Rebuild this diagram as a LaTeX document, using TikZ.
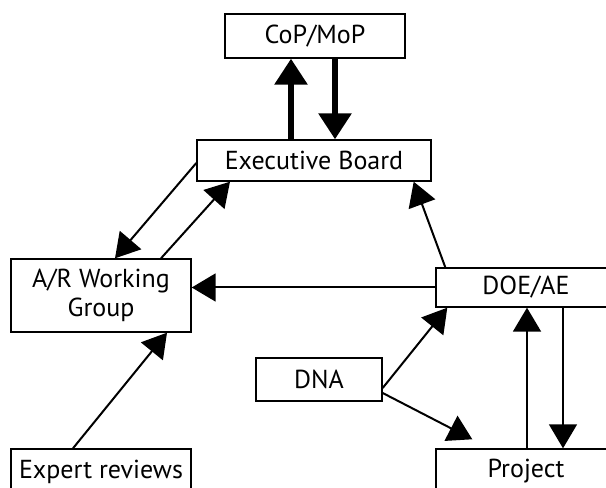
\documentclass[tikz,border=0pt]{standalone}
\usepackage{fontspec}
\setmainfont{PT Sans}
\usetikzlibrary{arrows.meta}
\begin{document}
\begin{tikzpicture}[x=1pt,y=1pt,
  box/.style={draw, line width=1.4pt, inner sep=0pt, align=center, font=\fontsize{26}{29}\selectfont},
  thin/.style={line width=2pt, -{Triangle[length=24pt,width=28pt]}},
  thick/.style={line width=6pt, -{Triangle[length=26pt,width=32pt]}}]
\useasboundingbox (0,0) rectangle (606,488);
\clip (0,0) rectangle (606,488);
\node[box, minimum width=180pt, minimum height=44pt] (cop) at (315,452) {CoP/MoP};
\node[box, minimum width=234pt, minimum height=41pt] (eb) at (314,327.5) {Executive Board};
\node[box, minimum width=180pt, minimum height=73pt] (ar) at (101,192.5) {A/R Working\\Group};
\node[box, minimum width=180pt, minimum height=39pt] (doe) at (526,200.5) {DOE/AE};
\node[box, minimum width=180pt, minimum height=45pt] (proj) at (526,16.5) {Project};
\node[box, minimum width=180pt, minimum height=45pt] (exp) at (101,16.5) {Expert reviews};
\node[box, minimum width=126pt, minimum height=43pt] (dna) at (319,108.5) {DNA};
\draw[thick] ([xshift=-23pt]eb.north) -- ([xshift=-24pt]cop.south);
\draw[thick] ([xshift=20pt]cop.south) -- ([xshift=21pt]eb.north);
\draw[thin] ([yshift=-2.5pt]eb.west) -- ([xshift=14pt]ar.north);
\draw[thin] ([xshift=60pt]ar.north) -- ([xshift=-84pt]eb.south);
\draw[thin] (doe.west) -- (doe.west -| ar.east);
\draw[thin] ([xshift=10pt]doe.north west) -- ([xshift=-18pt]eb.south east);
\draw[thin] ([yshift=-8.5pt]dna.east) -- ([xshift=12pt]doe.south west);
\draw[thin] ([yshift=-13.5pt]dna.east) -- ([xshift=37pt,yshift=9pt]proj.north west);
\draw[thin] ([xshift=1pt]proj.north) -- ([xshift=1pt]doe.south);
\draw[thin, line width=1.6pt] ([xshift=37pt]doe.south) -- ([xshift=37pt]proj.north);
\draw[thin] ([xshift=-28pt]exp.north) -- ([xshift=66pt]ar.south);
\end{tikzpicture}
\end{document}
